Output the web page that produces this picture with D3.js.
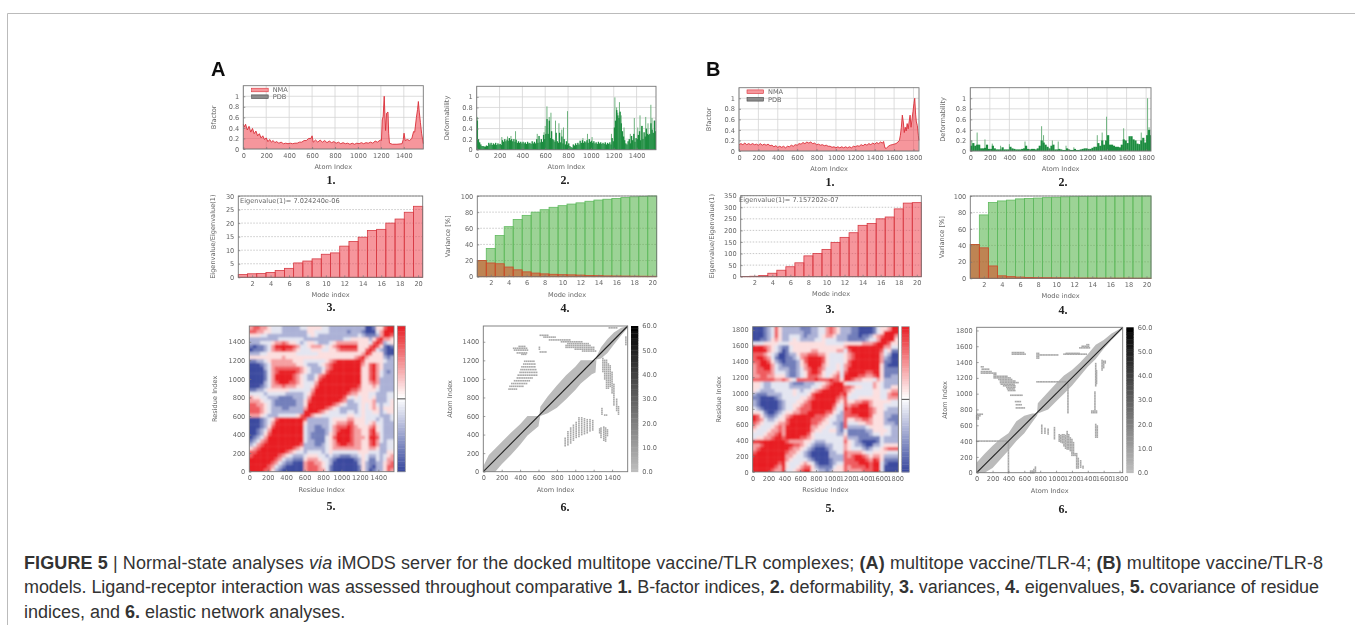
<!DOCTYPE html>
<html>
<head>
<meta charset="utf-8">
<script src="https://cdnjs.cloudflare.com/ajax/libs/d3/7.8.5/d3.min.js"></script>
<style>
    html, body { margin: 0; padding: 0; background: #fff; }
    svg { display: block; }
    text { font-family: "DejaVu Sans", sans-serif; fill: #666; font-size: 6.6px; }
    .caption { font-family: "Liberation Sans", sans-serif; fill: #333; font-size: 18px; }
    .letter { font-family: "Liberation Sans", sans-serif; font-weight: bold; fill: #111; font-size: 20px; }
    .num { font-family: "Liberation Serif", serif; font-weight: bold; fill: #222; font-size: 12px; }
</style>
</head>
<body>
<svg id="fig" width="1355" height="625"></svg>
<script>
// values
var bfactorA = [[0,.47],[10,.42],[20,.47],[35,.36],[50,.43],[65,.32],[80,.39],[95,.29],[110,.34],[125,.25],[140,.29],[155,.21],[170,.25],[185,.18],[200,.21],
    [215,.14],[230,.18],[245,.13],[260,.16],[275,.12],[290,.14],[310,.11],[330,.13],[350,.10],[370,.11],[390,.10],[410,.11],[430,.10],[450,.11],[470,.11],[490,.13],[510,.13],
    [530,.16],[550,.16],[570,.20],[590,.20],[600,.25],[610,.13],[630,.17],[650,.13],[670,.17],[690,.13],[710,.16],[730,.12],[750,.15],[770,.12],[790,.14],[810,.11],[830,.13],
    [850,.10],[870,.12],[890,.10],[910,.11],[930,.09],[950,.11],[970,.09],[990,.11],[1010,.10],[1030,.12],[1050,.10],[1070,.12],[1090,.11],[1110,.13],[1130,.11],[1150,.15],
    [1170,.13],[1195,.17],[1205,.16],[1212,.55],[1220,.62],[1229,1.0],[1236,.6],[1241,.35],[1250,.68],[1262,.7],[1268,.3],[1275,.11],[1300,.09],[1340,.09],[1385,.1],[1395,.18],
    [1402,.3],[1412,.16],[1430,.18],[1450,.16],[1470,.2],[1485,.33],[1495,.32],[1510,.6],[1520,.75],[1527,.9],[1535,.7],[1545,.5],[1555,.3],[1570,.1]];

var bfactorB = [[0,.12],[20,.14],[40,.12],[60,.15],[80,.12],[100,.14],[120,.12],[140,.14],[160,.12],[180,.13],[200,.11],[220,.14],[240,.11],[260,.13],[280,.11],[300,.13],
    [320,.10],[340,.11],[360,.08],[380,.10],[400,.07],[420,.09],[440,.07],[460,.09],[480,.06],[500,.09],[520,.08],[540,.11],[560,.09],[580,.12],[600,.11],[620,.14],[640,.13],
    [660,.16],[680,.14],[700,.17],[720,.15],[740,.17],[760,.14],[780,.15],[800,.12],[820,.13],[840,.11],[860,.12],[880,.10],[900,.11],[920,.09],[940,.09],[960,.07],[980,.08],
    [1000,.06],[1020,.08],[1040,.06],[1060,.08],[1080,.06],[1100,.08],[1120,.06],[1140,.08],[1160,.06],[1180,.09],[1200,.08],[1220,.10],[1240,.09],[1260,.12],[1280,.10],
    [1300,.13],[1320,.11],[1340,.14],[1360,.12],[1380,.15],[1400,.13],[1420,.16],[1440,.14],[1460,.17],[1480,.15],[1492,.18],[1505,.06],[1520,.05],[1540,.09],[1560,.11],
    [1580,.12],[1600,.13],[1620,.14],[1640,.17],[1655,.2],[1665,.3],[1675,.45],[1685,.68],[1695,.55],[1705,.35],[1715,.45],[1725,.38],[1735,.52],[1745,.42],[1755,.55],
    [1765,.68],[1775,.45],[1785,.6],[1795,.75],[1805,.9],[1813,1.0],[1822,.7],[1830,.55],[1840,.48],[1850,.3],[1855,.2]];

// dark body of the deformability plots, A every 10 atoms, B every 20
var deformA = [.55,.2,.14,.1,.07,.07,.06,.06,.08,.07, .13,.1,.13,.09,.12,.1,.13,.09,.12,.1, .11,.09,.18,.15,.2,.16,.19,.17,.22,.18, .2,.16,.2,.15,.19,.13,.16,.13,.15,.12,
    .15,.12,.14,.11,.15,.12,.13,.11,.16,.12, .15,.12,.2,.13,.26,.14,.2,.15,.28,.2, .3,.58,.3,.55,.22,.35,.2,.18,.15,.32, .16,.13,.32,.14,.25,.12,.2,.1,.16,.09,
    .12,.07,.05,.04,.1,.08,.12,.09,.13,.1, .17,.13,.18,.13,.16,.14,.18,.13,.2,.15, .17,.13,.16,.12,.14,.11,.15,.12,.14,.11, .13,.11,.14,.1,.13,.11,.14,.1,.22,.16,
    .42,.55,.75,.65,.6,.72,.5,.35,.25,.18, .12,.1,.16,.2,.12,.26,.18,.3,.15,.22, .2,.28,.35,.18,.45,.2,.33,.25,.4,.3, .28,.3,.5,.38,.32,.55,.35,.3];
var deformSpikesA = [[5,.62],[220,.24],[270,.25],[300,.26],[340,.35],[530,.3],[590,.33],[600,.45],[615,.82],[635,.62],[650,.7],[690,.55],[720,.5],[745,.38],[760,.42],[795,.73],[930,.22],[970,.3],[1010,.24],[1180,.3],
    [1210,.99],[1225,.8],[1235,.7],[1250,.9],[1265,.65],[1290,.42],[1345,.3],[1380,.6],[1410,.42],[1430,.65],[1450,.45],[1480,.62],[1500,.5],[1525,.85],[1535,.6],[1560,.55]];

var deformB = [.1,.15,.1,.12,.12,.05,.05,.06,.12,.04,.04,.1,.05,.03,.03,.03,.07,.03,.03,.03,.08,.05,.04,.03,.03,.03,.04,.05,.1,.04,.03,.04,.04,.03,.05,.1,.2,.16,.12,.08,.05,.1,.12,.03,.03,.04,
    .03,.02,.02,.05,.03,.02,.02,.04,.02,.02,.03,.04,.05,.05,.04,.04,.06,.08,.08,.15,.1,.2,.12,.2,.3,.12,.12,.1,.08,.08,.07,.12,.22,.2,.15,.28,.28,.22,.2,.14,.13,.2,.25,.16,.3,.4,.3];
var deformSpikesB = [[15,.2],[70,.35],[150,.22],[225,.14],[310,.1],[400,.13],[560,.18],[730,.47],[750,.3],[840,.2],[900,.18],[980,.1],[1060,.07],[1300,.3],[1350,.35],[1395,.65],[1570,.43],[1750,.35],[1815,1.0],[1830,.45]];

var eigenA = [1,1.3,1.4,1.8,2.5,3.3,5.3,6,6.8,8.5,9,11.5,13.2,14.8,17.3,17.7,20,21.5,24,26.2];
var eigenB = [1,2,5,15,28,43,60,90,100,118,148,170,190,222,230,250,258,293,318,320];
var varianceA = [20,17,16,12,8.5,6,4.5,3.5,3,2.5,2.3,2,1.5,1.3,1,.9,.8,.7,.6,.5];
var cumulativeA = [20,35,51,62,71,76,80,83,86,88,90,91.5,93.5,95,96,97,98,99,99.5,100];
var varianceB = [41,37,15,3,2,1.5,1,.8,.7,.6,.5,.4,.3,.3,.2,.2,.2,.2,.1,.1];
var cumulativeB = [41,77,92,94,95,96.5,97,97.5,98,98.5,99,99.2,99.4,99.6,99.7,99.8,99.9,100,100,100];

// covariance, lower triangle read bottom to top, 0 = deep blue, 9 = deep red
var covarianceA = ['9','99','999','8999','78999','778999','5678999','34678999','234678999','1234689999','11235789999','112346899999','1112357899999','11123468999999','111234578999999',
    '6665433344444579','77765433333333389','777654333223333699','7766543222222335899','66654432222223357999','655443332222333468999','4444344444333334578999','22334555555444444689999',
    '111234666766655445789999','1111346788877654446889999','00112468899876543357899999','001124688988765433467899999','0011246788888765433357899999','11113467777777654333467899999',
    '111234666666655433345678999999','2233456666665554444445678899999','55555555565555555555555555555679','333445555555544444455555555555568',
    '1222346778776544455544556777775579','21223468899876445666545678988855579','333444566765543455433345666666555479','3333333344444443333333333344555553579',
    '55544333333333334543333333333343222368','776655444333333355444433333233321114689','6776654443333344555544333333333311255789'];
var covarianceB = ['9','99','999','8999','88999','788999','6788999','66788999','888888999','4556678879','44456678699','544456676899','6544456768999','76544456678999','876433455788999',
    '8753223456788999','55421123455667789','432111123445677789','3211001234455677899','32110012344455678999','221111234444455678999','3222333344454445788999',
    '54333344444543445678999','554334444433333344567899','5543344444322233344567899','77777766765477777877787759','667766555322345777654567489',
    '6777764443223457887544564799','67788643332234678876444546899','678886432222356889865445467999','7788753212223578998754444578999','78876421122346789987544445678999','777654311233566777665444456788999',
    '8888654312455555665555566478888999','88876543224555555555555556888888999','444555544455555555554444455555666789','1122356533454333344544433322222344689',
    '11123475334443233345665333222122356799','011234753333332233446765333221111245899','0112347533333222334467653332211112455689'];

// contact maps: band around the diagonal [x, yLow, yHigh], clusters as rows [y, x0, x1]
var bandA = [[0,0,60],[60,0,180],[130,0,250],[200,80,320],[300,180,420],[400,290,510],[480,390,600],[600,490,600],[610,550,610],[620,600,700],[700,630,810],[800,690,930],[900,780,1040],[1000,880,1130],
    [1060,950,1200],[1180,1050,1200],[1220,1070,1200],[1230,1210,1240],[1280,1220,1340],[1350,1280,1430],[1420,1370,1500],[1500,1470,1550],[1570,1550,1570]];
var clustersA = [[1190,450,560],[1160,440,580],[1130,420,580],[1100,410,590],[1070,400,590],[1040,380,590],[1010,370,540],[980,340,520],[950,310,480],[920,290,450],[890,280,380],
    [1350,390,470],[1330,330,480],[1310,340,490],[1280,370,490],[1265,420,480],[1340,610,620],[1320,610,630],[1290,620,700],
    [1470,620,720],[1450,660,790],[1420,720,950],[1400,850,1080],[1380,920,1150],[1360,900,1170],[1340,900,1220],[1320,1000,1220],[1300,1080,1230],[1550,1370,1470]];
var bandB = [[0,0,130],[100,0,240],[200,60,340],[300,170,430],[400,280,500],[500,400,650],[600,500,720],[700,640,750],[760,720,750],[770,750,880],[900,800,1020],[1000,900,1130],[1100,1000,1230],
    [1200,1100,1300],[1300,1220,1390],[1400,1340,1500],[1500,1440,1620],[1600,1570,1680],[1700,1680,1760],[1840,1820,1840]];
var clustersB = [[400,0,400],[1340,60,100],[1310,70,170],[1280,60,200],[1260,60,250],[1240,220,260],[1220,220,400],[1200,220,440],[1180,280,460],[1160,300,500],[1140,300,540],[1120,310,490],[1100,340,490],
    [1080,380,490],[1060,390,490],[1040,400,490],[980,430,580],[900,490,560],[860,500,570],[820,500,610],[1520,450,610],[1500,450,620],[1510,760,800],[1490,760,1040],[1470,760,800],[1450,760,800],
    [1500,1100,1400],[1510,1130,1300],[1580,1300,1430],[1600,1330,1420],[1620,1390,1430],[1150,760,1130],[740,10,80],[720,0,50],[700,0,30],[680,0,30]];

var atomTicksA = [0,200,400,600,800,1000,1200,1400];
var atomTicksB = [0,200,400,600,800,1000,1200,1400,1600,1800];
var bfactorTicks = [0,.2,.4,.6,.8,1];
var modeTicks = [2,4,6,8,10,12,14,16,18,20];
var eigenTicksA = [0,5,10,15,20,25,30];
var eigenTicksB = [0,50,100,150,200,250,300,350];
var varianceTicks = [0,20,40,60,80,100];
var barTicks = [0,10,20,30,40,50,60];

var svg = d3.select('#fig');

var defs = svg.append('defs');
defs.append('filter').attr('id', 'soft').attr('x', '-5%').attr('y', '-5%').attr('width', '110%').attr('height', '110%')
    .append('feGaussianBlur').attr('stdDeviation', 0.45);
defs.append('filter').attr('id', 'heatblur').attr('x', '-5%').attr('y', '-5%').attr('width', '110%').attr('height', '110%')
    .append('feGaussianBlur').attr('stdDeviation', 1.1);

// page frame
svg.append('path').attr('d', 'M1355,13.5H7.5V625').attr('fill', 'none').attr('stroke', '#bbb');

var root = svg.append('g').attr('filter', 'url(#soft)');

var clipCount = 0;

// box, scales and grid shared by all the panels
function makePanel(p) {
    var g = root.append('g');
    var x = d3.scaleLinear().domain(p.xDomain).range([p.x0, p.x1]);
    var y = d3.scaleLinear().domain(p.yDomain).range([p.y0, p.y1]);

    if (p.grid) {
        var grid = g.append('g').attr('stroke', p.grid === 'solid' ? '#d4d4d4' : '#bbb').attr('stroke-width', 0.8)
            .attr('stroke-dasharray', p.grid === 'solid' ? null : '1.5,1.5');
        grid.selectAll('.gy').data(p.yTicks).enter().append('line')
            .attr('x1', p.x0).attr('x2', p.x1).attr('y1', function(d) { return y(d); }).attr('y2', function(d) { return y(d); });
        if (p.grid === 'solid') {
            grid.selectAll('.gx').data(p.xTicks).enter().append('line')
                .attr('y1', p.y0).attr('y2', p.y1).attr('x1', function(d) { return x(d); }).attr('x2', function(d) { return x(d); });
        }
    }

    p.g = g;
    p.xs = x;
    p.ys = y;
    return p;
}

function finishPanel(p) {
    var g = p.g;
    g.append('rect').attr('x', p.x0).attr('y', p.y1).attr('width', p.x1 - p.x0).attr('height', p.y0 - p.y1)
        .attr('fill', 'none').attr('stroke', '#777').attr('stroke-width', 0.9);

    var ax = d3.axisBottom(p.xs).tickValues(p.xTicks).tickSizeInner(-2).tickSizeOuter(0).tickPadding(4).tickFormat(d3.format('d'));
    var ay = d3.axisLeft(p.ys).tickValues(p.yTicks).tickSizeInner(-2).tickSizeOuter(0).tickPadding(4)
        .tickFormat(p.yFormat || d3.format('d'));
    var gx = g.append('g').attr('transform', 'translate(0,' + p.y0 + ')').call(ax);
    var gy = g.append('g').attr('transform', 'translate(' + p.x0 + ',0)').call(ay);
    [gx, gy].forEach(function(a) {
        a.select('.domain').remove();
        a.selectAll('line').attr('stroke', '#777').attr('stroke-width', 0.7);
        a.attr('font-family', null).attr('font-size', null);
    });

    g.append('text').attr('x', (p.x0 + p.x1) / 2).attr('y', p.xLabelY).attr('text-anchor', 'middle').text(p.xLabel);
    g.append('text').attr('transform', 'translate(' + p.yLabelX + ',' + ((p.y0 + p.y1) / 2) + ') rotate(-90)')
        .attr('text-anchor', 'middle').text(p.yLabel);
    root.append('text').attr('class', 'num').attr('x', p.numX).attr('y', p.numY).attr('text-anchor', 'middle').text(p.num);
}

function bfactorPanel(p, data, legend) {
    makePanel(p);
    var area = d3.area().x(function(d) { return p.xs(d[0]); }).y0(p.ys(0)).y1(function(d) { return p.ys(d[1]); });
    var line = d3.line().x(function(d) { return p.xs(d[0]); }).y(function(d) { return p.ys(d[1]); });
    p.g.append('path').attr('d', area(data)).attr('fill', '#ee3f4c').attr('fill-opacity', 0.55);
    p.g.append('path').attr('d', line(data)).attr('fill', 'none').attr('stroke', '#d92f38').attr('stroke-width', 0.9);
    // legend
    var names = ['NMA', 'PDB'];
    var fills = ['#f5979c', '#8c8c8c'];
    var strokes = ['#d92f38', '#444'];
    names.forEach(function(n, i) {
        var ly = legend.y + i * legend.dy;
        p.g.append('rect').attr('x', legend.x).attr('y', ly - 1.8).attr('width', 16.5).attr('height', 3.6)
            .attr('fill', fills[i]).attr('stroke', strokes[i]).attr('stroke-width', 0.6);
        p.g.append('text').attr('x', legend.x + 21).attr('y', ly + 2.4).text(n);
    });
    finishPanel(p);
}

function deformPanel(p, body, spikes, step) {
    makePanel(p);
    var w = p.xs(step) - p.xs(0);
    p.g.selectAll('.spike').data(spikes).enter().append('rect')
        .attr('x', function(d) { return p.xs(d[0]) - 0.5; }).attr('width', 1)
        .attr('y', function(d) { return p.ys(d[1]); })
        .attr('height', function(d) { return p.ys(0) - p.ys(d[1]); })
        .attr('fill', '#6fb37f');
    p.g.selectAll('.body').data(body).enter().append('rect')
        .attr('x', function(d, i) { return p.xs(i * step); }).attr('width', function(d, i) { return Math.min(w + 0.2, p.x1 - p.xs(i * step)); })
        .attr('y', function(d) { return p.ys(d); })
        .attr('height', function(d) { return p.ys(0) - p.ys(d); })
        .attr('fill', '#1c8c3f');
    finishPanel(p);
}

function drawBars(p, values, fill, stroke, opacity) {
    p.g.selectAll('.bar' + fill.slice(1)).data(values).enter().append('rect')
        .attr('x', function(d, i) { return p.xs(i + 0.5); })
        .attr('width', function(d, i) { return p.xs(i + 1.5) - p.xs(i + 0.5); })
        .attr('y', function(d) { return p.ys(d); })
        .attr('height', function(d) { return p.ys(0) - p.ys(d); })
        .attr('fill', fill).attr('fill-opacity', opacity)
        .attr('stroke', stroke).attr('stroke-width', 0.8);
}

function eigenPanel(p, values, label) {
    makePanel(p);
    drawBars(p, values, '#ee3f4c', '#d63a42', 0.55);
    finishPanel(p);
    p.g.append('text').attr('x', label.x).attr('y', label.y).text(label.text);
}

function variancePanel(p, cumulative, individual) {
    makePanel(p);
    drawBars(p, cumulative, '#4daf3e', '#5fba5f', 0.55);
    drawBars(p, individual, '#d8431f', '#cf4a2a', 0.55);
    finishPanel(p);
}

function covariancePanel(p, rows, bar) {
    makePanel(p);
    var color = d3.scaleLinear().domain([1, 4.5, 8]).range(['#3a4a9f', '#ffffff', '#e81c22']).clamp(true);
    var n = rows.length;
    var step = p.xDomain[1] / n;
    var cells = [];
    rows.forEach(function(row, i) {
        row.split('').forEach(function(c, j) {
            cells.push({ i: i, j: j, v: +c });
            if (i !== j) cells.push({ i: j, j: i, v: +c });
        });
    });
    var id = 'clip' + (clipCount++);
    defs.append('clipPath').attr('id', id).append('rect')
        .attr('x', p.x0).attr('y', p.y1).attr('width', p.x1 - p.x0).attr('height', p.y0 - p.y1);
    var inner = p.g.append('g').attr('clip-path', 'url(#' + id + ')').append('g').attr('filter', 'url(#heatblur)');
    // outermost cells run past the box so the blur does not fade at the edges
    inner.selectAll('rect').data(cells).enter().append('rect')
        .attr('x', function(d) { return p.xs(d.j * step) - (d.j === 0 ? 5 : 0); })
        .attr('width', function(d) { return p.xs(step) - p.xs(0) + 0.4 + (d.j === 0 || d.j === n - 1 ? 5 : 0); })
        .attr('y', function(d) { return p.ys((d.i + 1) * step) - (d.i === n - 1 ? 5 : 0); })
        .attr('height', function(d) { return p.ys(0) - p.ys(step) + 0.4 + (d.i === 0 || d.i === n - 1 ? 5 : 0); })
        .attr('fill', function(d) { return color(d.v); });

    // colour bar, no tick labels in the original
    var cy = d3.scaleLinear().domain([1, 8]).range([p.y0, p.y1]);
    p.g.selectAll('.cb').data(d3.range(1, 8, 0.125)).enter().append('rect')
        .attr('x', bar.x0).attr('width', bar.x1 - bar.x0)
        .attr('y', function(d) { return cy(d + 0.125); })
        .attr('height', function(d) { return cy(d) - cy(d + 0.125) + 0.4; })
        .attr('fill', function(d) { return color(d); });
    p.g.append('rect').attr('x', bar.x0).attr('y', p.y1).attr('width', bar.x1 - bar.x0).attr('height', p.y0 - p.y1)
        .attr('fill', 'none').attr('stroke', '#999').attr('stroke-width', 0.7);
    p.g.append('line').attr('x1', bar.x0).attr('x2', bar.x1).attr('y1', cy(4.5)).attr('y2', cy(4.5))
        .attr('stroke', '#333').attr('stroke-width', 0.9);
    finishPanel(p);
}

function contactPanel(p, band, clusters, bar) {
    makePanel(p);
    var area = d3.area().x(function(d) { return p.xs(d[0]); })
        .y0(function(d) { return p.ys(d[1]); }).y1(function(d) { return p.ys(d[2]); });
    p.g.append('path').attr('d', area(band)).attr('fill', '#bbb');

    var dots = [];
    clusters.forEach(function(c) {
        d3.range(c[1], c[2], 20).forEach(function(v) {
            dots.push([v, c[0]]);
            dots.push([c[0], v]);
        });
    });
    p.g.selectAll('.dot').data(dots).enter().append('rect')
        .attr('x', function(d) { return p.xs(d[0]) - 0.8; })
        .attr('y', function(d) { return p.ys(d[1]) - 0.8; })
        .attr('width', 1.6).attr('height', 1.6).attr('fill', '#a8a8a8');

    p.g.append('line').attr('x1', p.xs(0)).attr('y1', p.ys(0)).attr('x2', p.xs(p.xDomain[1])).attr('y2', p.ys(p.xDomain[1]))
        .attr('stroke', '#222').attr('stroke-width', 1.1);

    // grey bar with its scale
    var cy = d3.scaleLinear().domain([0, 60]).range([p.y0, p.y1]);
    var grey = d3.scaleLinear().domain([0, 60]).range(['#bdbdbd', '#000']);
    p.g.selectAll('.cb').data(d3.range(0, 60)).enter().append('rect')
        .attr('x', bar.x0).attr('width', bar.x1 - bar.x0)
        .attr('y', function(d) { return cy(d + 1); })
        .attr('height', function(d) { return cy(d) - cy(d + 1) + 0.4; })
        .attr('fill', function(d) { return grey(d); });
    p.g.selectAll('.cbt').data(barTicks).enter().append('text')
        .attr('x', bar.x1 + 4).attr('y', function(d) { return cy(d) + 2.4; })
        .text(function(d) { return d.toFixed(1); });
    finishPanel(p);
}

// panel A
bfactorPanel({ x0: 243.3, x1: 423.3, y0: 149, y1: 85.7, xDomain: [0, 1570], yDomain: [0, 1.2], xTicks: atomTicksA, yTicks: bfactorTicks, yFormat: d3.format('~g'),
    grid: 'solid', xLabel: 'Atom Index', yLabel: 'Bfactor', xLabelY: 169, yLabelX: 216, num: '1.', numX: 331, numY: 184 }, bfactorA, { x: 251.7, y: 90, dy: 6.7 });
deformPanel({ x0: 476.7, x1: 656, y0: 149.7, y1: 86.3, xDomain: [0, 1570], yDomain: [0, 1.2], xTicks: atomTicksA, yTicks: bfactorTicks, yFormat: d3.format('~g'),
    grid: 'solid', xLabel: 'Atom Index', yLabel: 'Deformability', xLabelY: 169, yLabelX: 449, num: '2.', numX: 565, numY: 184 }, deformA, deformSpikesA, 10);
eigenPanel({ x0: 238.3, x1: 422.7, y0: 277.3, y1: 196, xDomain: [0.5, 20.5], yDomain: [0, 30], xTicks: modeTicks, yTicks: eigenTicksA,
    grid: 'dash', xLabel: 'Mode index', yLabel: 'Eigenvalue/Eigenvalue(1)', xLabelY: 297, yLabelX: 215, num: '3.', numX: 331, numY: 311 }, eigenA,
    { x: 240, y: 203, text: 'Eigenvalue(1)= 7.024240e-06' });
variancePanel({ x0: 477.3, x1: 656.7, y0: 276.7, y1: 196, xDomain: [0.5, 20.5], yDomain: [0, 100], xTicks: modeTicks, yTicks: varianceTicks,
    grid: 'dash', xLabel: 'Mode index', yLabel: 'Variance [%]', xLabelY: 297, yLabelX: 450, num: '4.', numX: 565, numY: 312 }, cumulativeA, varianceA);
covariancePanel({ x0: 249.3, x1: 394, y0: 471.7, y1: 326, xDomain: [0, 1570], yDomain: [0, 1570], xTicks: atomTicksA, yTicks: atomTicksA,
    xLabel: 'Residue Index', yLabel: 'Residue Index', xLabelY: 492, yLabelX: 217, num: '5.', numX: 331, numY: 510 }, covarianceA, { x0: 397.3, x1: 405.3 });
contactPanel({ x0: 483.3, x1: 627.7, y0: 471.7, y1: 326, xDomain: [0, 1570], yDomain: [0, 1570], xTicks: atomTicksA, yTicks: atomTicksA,
    xLabel: 'Atom Index', yLabel: 'Atom Index', xLabelY: 492, yLabelX: 452, num: '6.', numX: 565, numY: 511 }, bandA, clustersA, { x0: 631, x1: 638.3 });

// panel B
bfactorPanel({ x0: 739, x1: 919, y0: 151, y1: 87.7, xDomain: [0, 1857], yDomain: [0, 1.2], xTicks: atomTicksB, yTicks: bfactorTicks, yFormat: d3.format('~g'),
    grid: 'solid', xLabel: 'Atom Index', yLabel: 'Bfactor', xLabelY: 171, yLabelX: 711, num: '1.', numX: 830, numY: 186 }, bfactorB, { x: 747, y: 91.7, dy: 7.6 });
deformPanel({ x0: 970.3, x1: 1151, y0: 151, y1: 87.7, xDomain: [0, 1850], yDomain: [0, 1.2], xTicks: atomTicksB, yTicks: bfactorTicks, yFormat: d3.format('~g'),
    grid: 'solid', xLabel: 'Atom Index', yLabel: 'Deformability', xLabelY: 171, yLabelX: 945, num: '2.', numX: 1063, numY: 186 }, deformB, deformSpikesB, 20);
eigenPanel({ x0: 740.7, x1: 921.3, y0: 276.7, y1: 195.7, xDomain: [0.5, 20.5], yDomain: [0, 350], xTicks: modeTicks, yTicks: eigenTicksB,
    grid: 'dash', xLabel: 'Mode index', yLabel: 'Eigenvalue/Eigenvalue(1)', xLabelY: 296, yLabelX: 714, num: '3.', numX: 830, numY: 313 }, eigenB,
    { x: 739, y: 202, text: 'Eigenvalue(1)= 7.157202e-07' });
variancePanel({ x0: 970.3, x1: 1151, y0: 278.3, y1: 196, xDomain: [0.5, 20.5], yDomain: [0, 100], xTicks: modeTicks, yTicks: varianceTicks,
    grid: 'dash', xLabel: 'Mode index', yLabel: 'Variance [%]', xLabelY: 298, yLabelX: 944, num: '4.', numX: 1063, numY: 314 }, cumulativeB, varianceB);
covariancePanel({ x0: 752.7, x1: 898.3, y0: 472, y1: 326.7, xDomain: [0, 1840], yDomain: [0, 1840], xTicks: atomTicksB, yTicks: atomTicksB,
    xLabel: 'Residue Index', yLabel: 'Residue Index', xLabelY: 492, yLabelX: 721, num: '5.', numX: 830, numY: 512 }, covarianceB, { x0: 901.7, x1: 909.3 });
contactPanel({ x0: 976.7, x1: 1122.7, y0: 472.7, y1: 327.3, xDomain: [0, 1840], yDomain: [0, 1840], xTicks: atomTicksB, yTicks: atomTicksB,
    xLabel: 'Atom Index', yLabel: 'Atom Index', xLabelY: 493, yLabelX: 947, num: '6.', numX: 1063, numY: 513 }, bandB, clustersB, { x0: 1126.3, x1: 1133.7 });

root.append('text').attr('class', 'letter').attr('x', 211).attr('y', 76).text('A');
root.append('text').attr('class', 'letter').attr('x', 706).attr('y', 76).text('B');

// caption, bold parts marked per run
var captionLines = [
    [['FIGURE 5', 'b'], [' | Normal-state analyses ', ''], ['via', 'i'], [' iMODS server for the docked multitope vaccine/TLR complexes; ', ''], ['(A)', 'b'], [' multitope vaccine/TLR-4; ', ''], ['(B)', 'b'], [' multitope vaccine/TLR-8', '']],
    [['models. Ligand-receptor interaction was assessed throughout comparative ', ''], ['1.', 'b'], [' B-factor indices, ', ''], ['2.', 'b'], [' deformability, ', ''], ['3.', 'b'], [' variances, ', ''], ['4.', 'b'], [' eigenvalues, ', ''], ['5.', 'b'], [' covariance of residue', '']],
    [['indices, and ', ''], ['6.', 'b'], [' elastic network analyses.', '']]
];
var captionY = [569, 593.3, 617.5];
var captionWidth = [1299, 1295, null];
captionLines.forEach(function(runs, i) {
    var t = svg.append('text').attr('class', 'caption').attr('x', 24).attr('y', captionY[i]).attr('xml:space', 'preserve');
    if (captionWidth[i]) t.attr('textLength', captionWidth[i]);
    runs.forEach(function(r) {
        t.append('tspan').text(r[0])
            .attr('font-weight', r[1] === 'b' ? 'bold' : null)
            .attr('font-style', r[1] === 'i' ? 'italic' : null);
    });
});
</script>
</body>
</html>
